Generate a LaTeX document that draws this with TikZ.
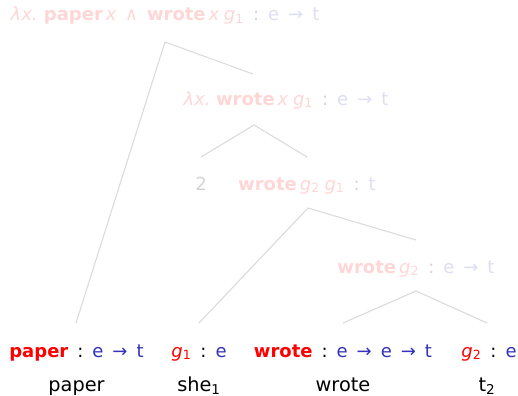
\documentclass[tikz,border=0pt]{standalone}
\usepackage{fontspec}
\setmainfont{DejaVu Sans}
\definecolor{semred}{RGB}{255,0,0}
\definecolor{typeblue}{RGB}{50,50,190}
\definecolor{fadered}{RGB}{255,214,214}
\definecolor{fadeblue}{RGB}{222,222,242}
\definecolor{fadegray}{RGB}{212,212,212}
\definecolor{branch}{RGB}{218,218,218}
\newcommand\varg[1]{\textit{g}\textsubscript{#1}}
\newcommand\ar{\enspace→\enspace}
\newcommand\cl{\enspace:\enspace}
\begin{document}
\begin{tikzpicture}[x=0.75pt,y=-0.75pt,
  lbl/.style={anchor=base,inner sep=0pt,font=\fontsize{13.5}{16}\selectfont},
  word/.style={anchor=base,inner sep=0pt,font=\fontsize{14.5}{17}\selectfont},
  faded/.style={lbl},
  edgeline/.style={draw=branch,line width=0.8pt}]
\useasboundingbox (0,0) rectangle (518,396);

% derivation labels (faded)
\node[faded] (top) at (165,21) {{\color{fadered}\textit{λx.}\hspace{0.35em}\textbf{paper}\,\textit{x}\hspace{0.45em}∧\hspace{0.5em}\textbf{wrote}\,\textit{x}\hspace{0.25em}\varg{1}}{\color{fadegray}\cl}{\color{fadeblue}e\ar t}};
\node[faded] (lam) at (286,105) {{\color{fadered}\textit{λx.}\hspace{0.3em}\textbf{wrote}\,\textit{x}\hspace{0.25em}\varg{1}}{\color{fadegray}\cl}{\color{fadeblue}e\ar t}};
\node[faded] (idx) at (201,190) {\color{fadegray}2};
\node[faded] (s) at (307,190) {{\color{fadered}\textbf{wrote}\,\varg{2}\hspace{0.25em}\varg{1}}{\color{fadegray}\cl}{\color{fadeblue}t}};
\node[faded] (vp) at (416,273) {{\color{fadered}\textbf{wrote}\,\varg{2}}{\color{fadegray}\cl}{\color{fadeblue}e\ar t}};

% leaves
\node[lbl] (l1) at (76.5,357) {{\color{semred}\textbf{paper}}\cl{\color{typeblue}e\ar t}};
\node[lbl] (l2) at (199,357) {{\color{semred}\varg{1}}\cl{\color{typeblue}e}};
\node[lbl] (l3) at (343,357) {{\color{semred}\textbf{wrote}}\cl{\color{typeblue}e\ar e\ar t}};
\node[lbl] (l4) at (489,357) {{\color{semred}\varg{2}}\cl{\color{typeblue}e}};

% words
\node[word] (w1) at (76.5,391) {paper};
\node[word] (w2) at (199,391) {she\textsubscript{1}};
\node[word] (w3) at (343,391) {wrote};
\node[word] (w4) at (487,391) {t\textsubscript{2}};

% branch points
\coordinate (top-b) at (165,42);
\coordinate (lam-t) at (253,74);
\coordinate (lam-b) at (254,125);
\coordinate (idx-t) at (201,157);
\coordinate (s-t) at (307,157);
\coordinate (s-b) at (308,208);
\coordinate (vp-t) at (416,240);
\coordinate (vp-b) at (416,291);
\coordinate (l1-t) at (76,323);
\coordinate (l2-t) at (199,323);
\coordinate (l3-t) at (343,323);
\coordinate (l4-t) at (487,323);

\draw[edgeline] (l1-t) -- (top-b) -- (lam-t);
\draw[edgeline] (idx-t) -- (lam-b) -- (s-t);
\draw[edgeline] (l2-t) -- (s-b) -- (vp-t);
\draw[edgeline] (l3-t) -- (vp-b) -- (l4-t);
\end{tikzpicture}
\end{document}
